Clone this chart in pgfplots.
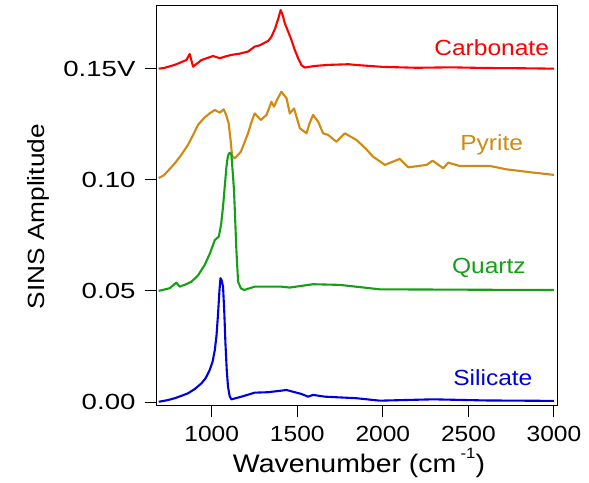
\documentclass[border=0pt]{standalone}
\usepackage{pgfplots}
\pgfplotsset{compat=1.18}
\usepackage{fontspec}
\setmainfont[FakeStretch=1.12]{Liberation Sans}
\newfontfamily\yfont[FakeStretch=1.26]{Liberation Sans}
\definecolor{carb}{RGB}{255,0,0}
\definecolor{pyr}{RGB}{208,138,16}
\definecolor{qtz}{RGB}{20,160,20}
\definecolor{sil}{RGB}{0,0,220}
\begin{document}
\fontsize{22}{26}\selectfont
\begin{tikzpicture}
\begin{axis}[
  name=ax,
  scale only axis,
  width=400bp, height=399bp,
  xmin=680, xmax=3018,
  ymin=-0.00135, ymax=0.1782,
  xtick={1000,1500,2000,2500,3000},
  ytick={0,0.05,0.10,0.15},
  yticklabels={0.00,0.05,0.10,0.15V},
  xticklabels={1000,1500,2000,2500,3000},
  tick align=outside,
  xtick pos=bottom, ytick pos=left,
  major tick length=12bp,
  tick style={black, line width=1bp},
  axis line style={line width=1bp},
  /pgf/number format/assume math mode=true,
  xticklabel style={font=\fontsize{22}{26}\selectfont, yshift=-2bp},
  yticklabel style={font=\yfont\fontsize{22}{26}\selectfont, anchor=east, xshift=-2bp},
  xlabel={Wavenumber (cm\,\raisebox{0.55em}{\fontsize{15}{15}\selectfont -1})},
  ylabel={SINS Amplitude},
  xlabel style={font=\fontsize{25.5}{30}\selectfont, at={(axis description cs:0.505,-0.145)}, anchor=center},
  ylabel style={font=\fontsize{23.5}{28}\selectfont, at={(axis description cs:-0.2975,0.472)}, anchor=center},
  every axis plot/.append style={line width=2.1bp, line join=round},
  clip=true,
]
\addplot[carb] coordinates {(690,0.1500)(720,0.1503)(784,0.1517)(852,0.1539)(871,0.1566)(891,0.1509)(940,0.1539)(1008,0.1557)(1047,0.1547)(1080,0.1555)(1115,0.1562)(1160,0.1567)(1212,0.1577)(1235,0.1590)(1251,0.1599)(1280,0.1605)(1310,0.1617)(1330,0.1625)(1349,0.1644)(1370,0.1680)(1390,0.1728)(1403,0.1764)(1415,0.1740)(1427,0.1704)(1446,0.1668)(1466,0.1629)(1485,0.1585)(1505,0.1547)(1525,0.1515)(1544,0.1505)(1600,0.1512)(1680,0.1517)(1800,0.1520)(1836,0.1517)(2000,0.1508)(2200,0.1504)(2400,0.1506)(2600,0.1503)(2800,0.1502)(3000,0.1500)};
\addplot[pyr] coordinates {(690,0.1008)(720,0.1020)(750,0.1045)(784,0.1074)(820,0.1110)(861,0.1157)(890,0.1200)(920,0.1247)(955,0.1278)(988,0.1299)(1018,0.1314)(1047,0.1302)(1070,0.1317)(1085,0.1290)(1099,0.1254)(1110,0.1180)(1119,0.1107)(1135,0.1096)(1170,0.1126)(1190,0.1165)(1212,0.1209)(1230,0.1255)(1251,0.1299)(1287,0.1269)(1320,0.1292)(1349,0.1351)(1364,0.1329)(1385,0.1365)(1407,0.1396)(1437,0.1367)(1456,0.1299)(1481,0.1321)(1515,0.1232)(1554,0.1209)(1570,0.1250)(1592,0.1292)(1622,0.1261)(1651,0.1209)(1680,0.1202)(1729,0.1171)(1778,0.1209)(1846,0.1179)(1900,0.1140)(1943,0.1104)(2012,0.1067)(2099,0.1094)(2148,0.1056)(2256,0.1067)(2291,0.1086)(2353,0.1052)(2382,0.1077)(2450,0.1062)(2626,0.1062)(2723,0.1047)(2850,0.1035)(3000,0.1022)};
\addplot[qtz] coordinates {(690,0.0500)(754,0.0512)(793,0.0537)(813,0.0519)(850,0.0530)(881,0.0541)(920,0.0570)(959,0.0617)(990,0.0670)(1018,0.0729)(1041,0.0744)(1055,0.0800)(1066,0.0879)(1076,0.0970)(1086,0.1059)(1093,0.1100)(1099,0.1116)(1107,0.1122)(1115,0.1112)(1122,0.1040)(1130,0.0954)(1137,0.0820)(1144,0.0684)(1154,0.0541)(1170,0.0512)(1189,0.0504)(1251,0.0519)(1407,0.0519)(1456,0.0515)(1592,0.0530)(1749,0.0527)(1982,0.0507)(2300,0.0506)(2600,0.0505)(3000,0.0504)};
\addplot[sil] coordinates {(690,0.0001)(740,0.0008)(784,0.0017)(820,0.0027)(861,0.0039)(900,0.0058)(940,0.0084)(965,0.0108)(988,0.0144)(1005,0.0182)(1018,0.0234)(1028,0.0300)(1037,0.0399)(1045,0.0500)(1051,0.0557)(1058,0.0548)(1066,0.0519)(1073,0.0410)(1080,0.0264)(1088,0.0140)(1095,0.0069)(1105,0.0025)(1115,0.0012)(1174,0.0024)(1251,0.0042)(1329,0.0044)(1437,0.0054)(1525,0.0036)(1563,0.0024)(1592,0.0032)(1661,0.0024)(1846,0.0017)(1982,0.0006)(2294,0.0012)(2600,0.0007)(3000,0.0005)};
\node[carb, anchor=center] at (axis cs:2636,0.1593) {Carbonate};
\node[pyr, anchor=center] at (axis cs:2636,0.1157) {Pyrite};
\node[qtz, anchor=center] at (axis cs:2620,0.0603) {Quartz};
\node[sil, anchor=center] at (axis cs:2643,0.0110) {Silicate};
\end{axis}
\pgfresetboundingbox
\path[use as bounding box] ([shift={(-157bp,-78bp)}]ax.south west) rectangle ([shift={(32bp,6bp)}]ax.north east);
\end{tikzpicture}
\end{document}
